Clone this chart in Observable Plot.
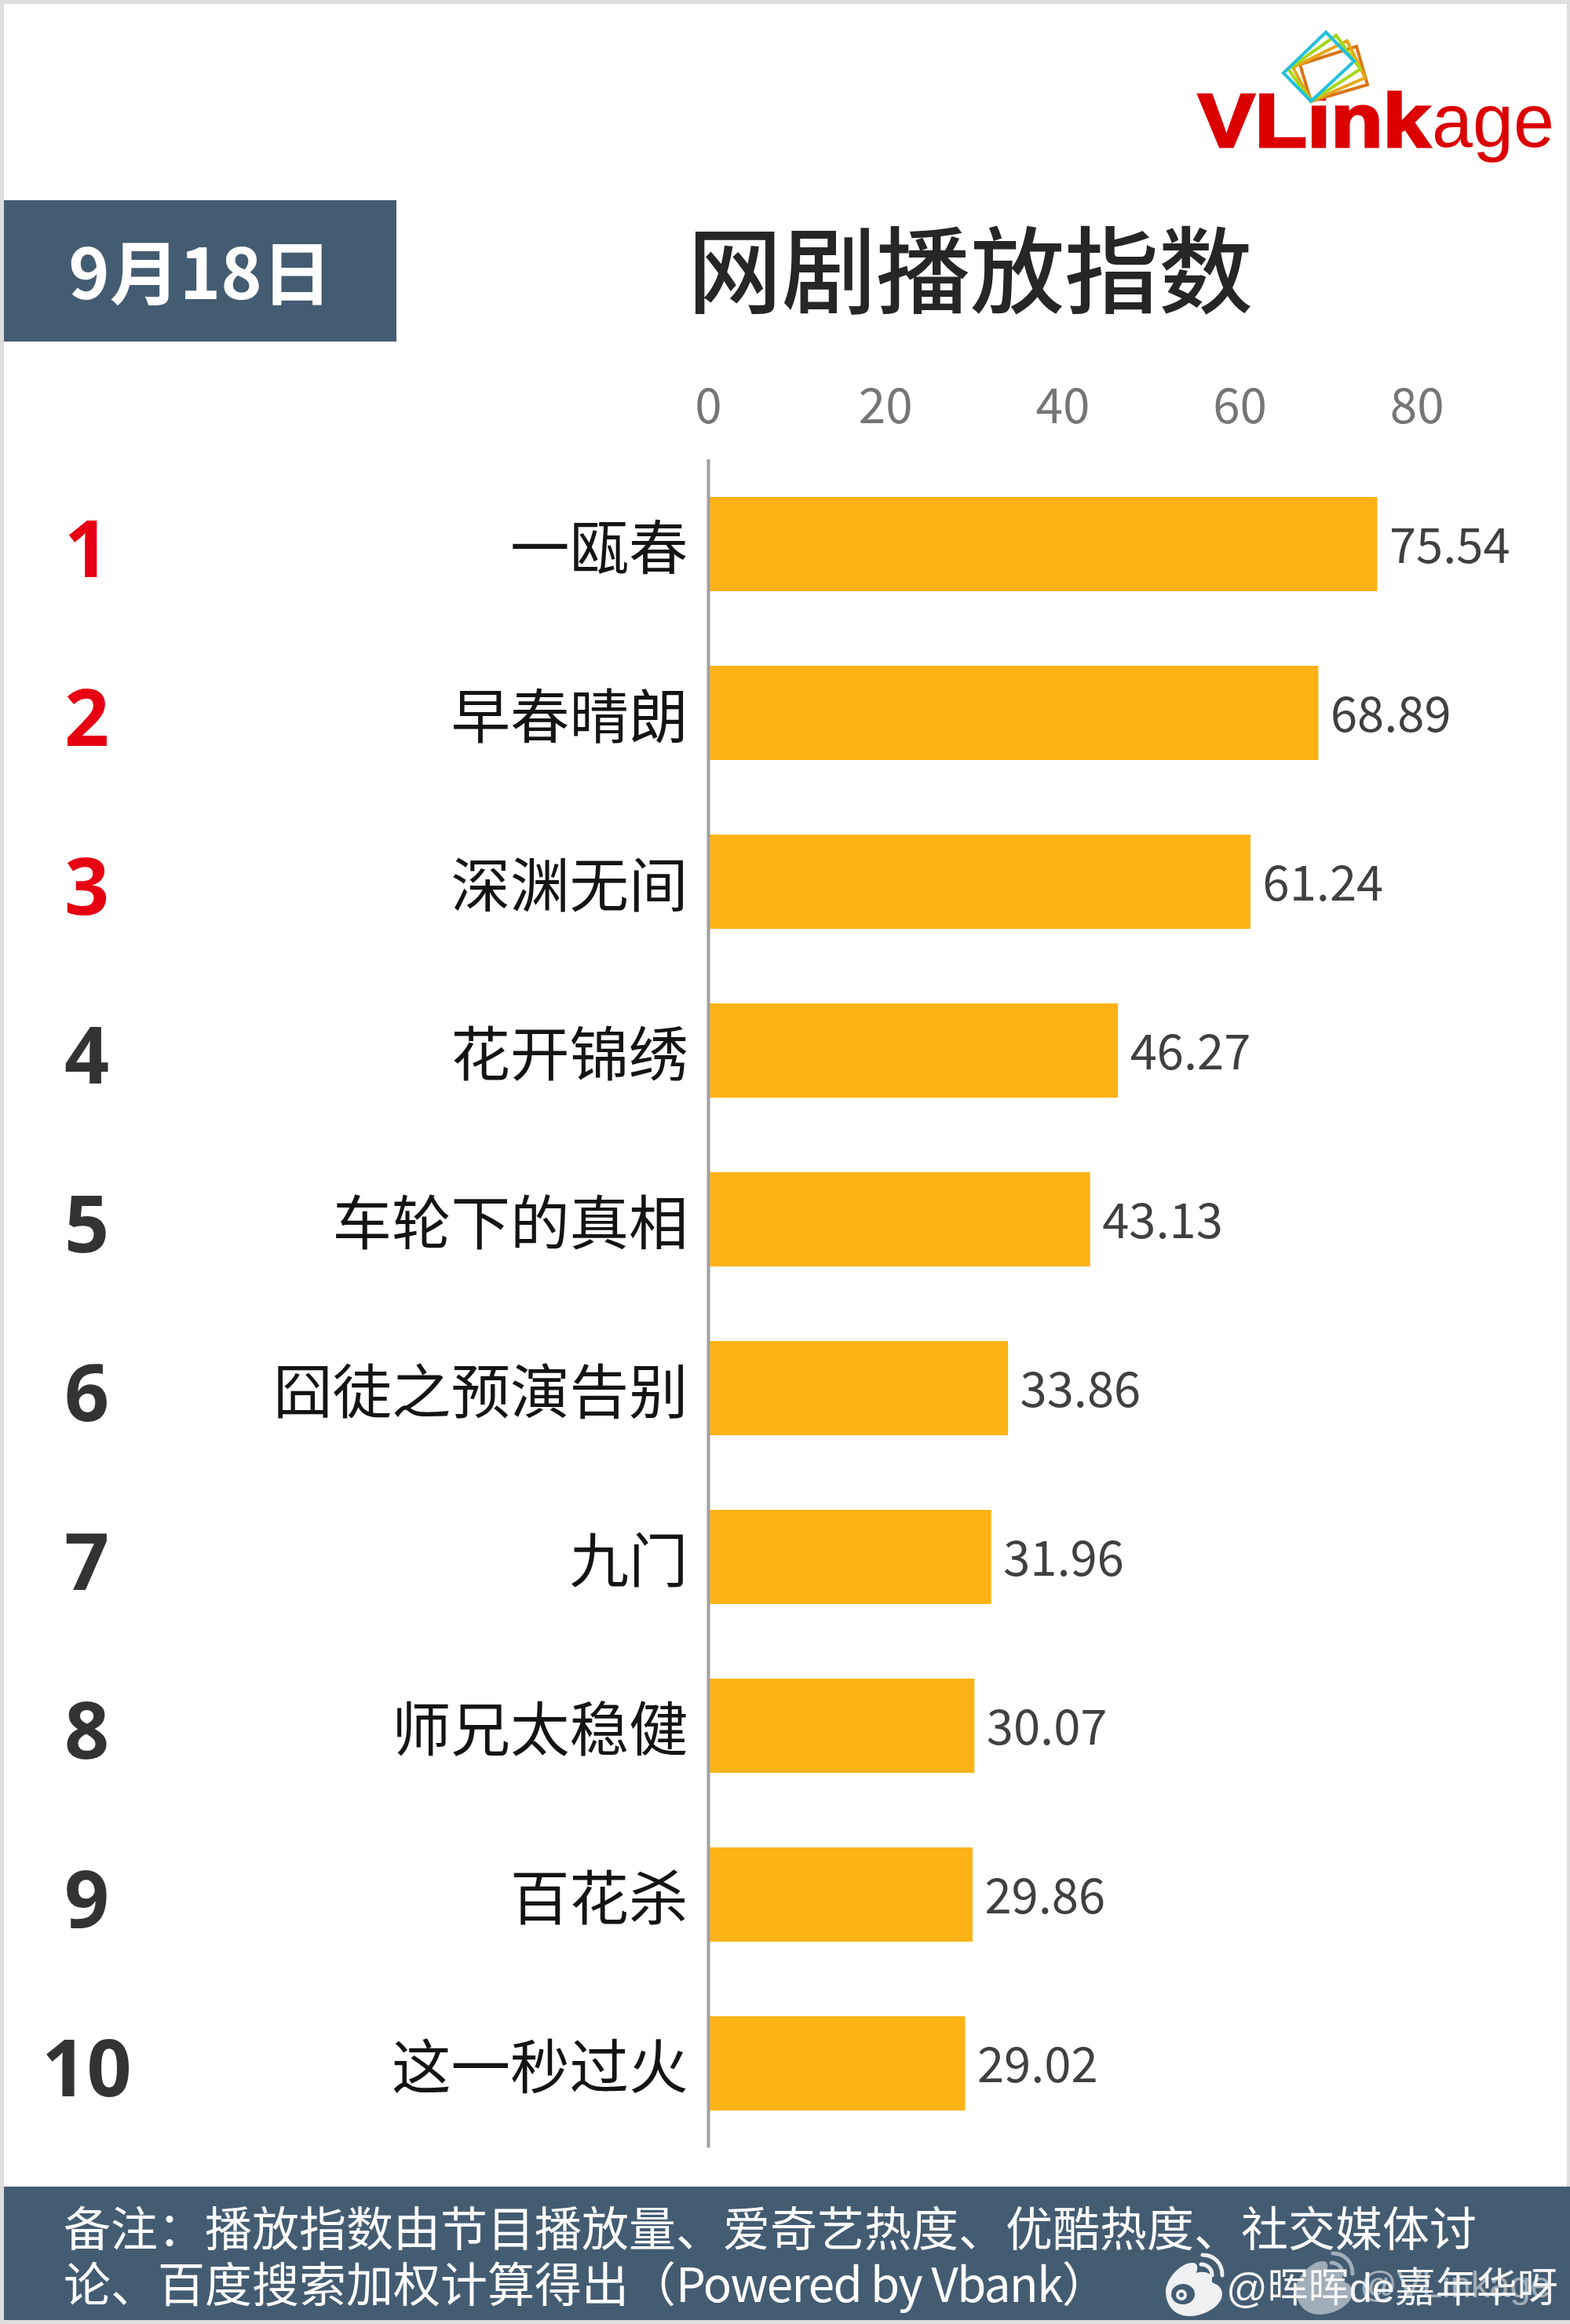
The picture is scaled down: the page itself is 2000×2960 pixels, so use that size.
<!DOCTYPE html>
<html><head><meta charset="utf-8">
<script src="https://cdn.jsdelivr.net/npm/d3@7"></script>
<script src="https://cdn.jsdelivr.net/npm/@observablehq/plot@0.6"></script>
<style>
html,body{margin:0;padding:0;background:#dedede}
#page{position:relative;width:2000px;height:2960px;overflow:hidden;background:#dedede;font-family:"Noto Sans CJK SC","Noto Sans",sans-serif}
#paper{position:absolute;left:5px;top:5px;width:1991px;height:2950px;background:#fff}
#logo{position:absolute;left:0;top:0}
#date{position:absolute;left:5px;top:255px;width:500px;height:180px;background:#445c72;color:#fff;font-size:89px;font-weight:700;line-height:176px;text-align:center;white-space:nowrap}
#title{position:absolute;left:876px;top:258px;width:720px;text-align:center;font-size:120px;line-height:160px;font-weight:500;color:#262626;white-space:nowrap}
#chart{position:absolute;left:0;top:480px}
#foot{position:absolute;left:5px;top:2785px;width:1995px;height:170px;background:#445c72;color:#fff;font-size:60px;white-space:nowrap}
#foot .line{position:absolute;left:76px}
#wmicons{position:absolute;left:0;top:2860px}
.wm{position:absolute;font-family:"Liberation Sans","Noto Sans CJK SC",sans-serif;line-height:60px;white-space:nowrap}
</style></head><body>
<div id="page">
<div id="paper"></div>
<svg id="logo" width="2000" height="240" xmlns="http://www.w3.org/2000/svg">
<text x="1526" y="187" font-family="Liberation Sans" font-weight="700" font-size="96" fill="#dc0000" stroke="#dc0000" stroke-width="3" textLength="296" lengthAdjust="spacingAndGlyphs">VLink</text>
<text x="1824" y="187" font-family="Liberation Sans" font-size="96" fill="#dc0000" textLength="156" lengthAdjust="spacingAndGlyphs">age</text>
<polygon points="1689,41 1725,78 1670,129 1635,93" fill="#fff"/>
<g fill="none" stroke-width="4">
<polygon points="1728,59 1742,108 1670,129 1656,82" stroke="#dc7414"/>
<polygon points="1716,52 1739,99 1670,129 1647,86" stroke="#e6a818"/>
<polygon points="1702,45 1733,88 1670,129 1641,88" stroke="#a4d81c"/>
<polygon points="1689,41 1725,78 1670,129 1635,93" stroke="#20c0dc"/>
</g>
</svg>
<div id="date">9月18日</div>
<div id="title">网剧播放指数</div>
<div id="chart"></div>
<div id="foot">
<div class="line" style="top:6px">备注&#xFF1A;播放指数由节目播放量、爱奇艺热度、优酷热度、社交媒体讨</div>
<div class="line" style="top:77px">论、百度搜索加权计算得出&#xFF08;<span style="letter-spacing:-1.5px">Powered by Vbank</span>&#xFF09;</div>
</div>
<svg id="wmicons" width="2000" height="100" xmlns="http://www.w3.org/2000/svg">
<g opacity="0.55" transform="translate(166,-2)">
<path d="M1485 58c0-14 18-36 34-36 9 0 6 10 5 13 8-3 20-1 20 7 0 3-1 5 2 6 8 3 11 8 11 14 0 14-21 28-42 28-17 0-30-12-30-32z" fill="#eef0f2"/>
<path d="M1530 24c8 0 14 6 14 14M1532 12c15 0 25 11 25 26" fill="none" stroke="#eef0f2" stroke-width="5" stroke-linecap="round"/>
</g>
<g>
<path d="M1485 58c0-14 18-36 34-36 9 0 6 10 5 13 8-3 20-1 20 7 0 3-1 5 2 6 8 3 11 8 11 14 0 14-21 28-42 28-17 0-30-12-30-32z" fill="#eef0f2"/>
<ellipse cx="1507" cy="62" rx="15" ry="13" fill="#445c72"/>
<circle cx="1505" cy="63" r="7" fill="#eef0f2"/>
<circle cx="1505" cy="63" r="3" fill="#445c72"/>
<path d="M1530 24c8 0 14 6 14 14M1532 12c15 0 25 11 25 26" fill="none" stroke="#eef0f2" stroke-width="5" stroke-linecap="round"/>
</g>
</svg>
<div class="wm" style="left:1732px;top:2880px;font-size:47px;color:#dfe3e6;opacity:.6">@VLinkage</div>
<div class="wm" style="left:1562px;top:2884px;font-size:52px;color:#f6f6f6">@晖晖de嘉年华呀</div>
</div>
<script>
const names = ["一瓯春","早春晴朗","深渊无间","花开锦绣","车轮下的真相","囧徒之预演告别","九门","师兄太稳健","百花杀","这一秒过火"];
const ranks = [1,2,3,4,5,6,7,8,9,10];
const values = [75.54,68.89,61.24,46.27,43.13,33.86,31.96,30.07,29.86,29.02];
const xTicks = [0,20,40,60,80];
const rows = names.map((name,i)=>({name,rank:ranks[i],value:values[i]}));
const font = '"Noto Sans CJK SC","Noto Sans",sans-serif';
const chart = Plot.plot({
  width:2000,height:2305,
  marginLeft:902,marginRight:82.4,marginTop:105,marginBottom:49.5,
  style:{background:"transparent",fontFamily:font,overflow:"visible"},
  x:{domain:[0,90],ticks:xTicks,axis:null},
  y:{domain:names,paddingInner:0.442,paddingOuter:0.221,axis:null},
  marks:[
    Plot.barX(rows,{x:"value",y:"name",fill:"#fdb316"}),
    Plot.ruleX([0],{stroke:"#a0a0a0",strokeWidth:4}),
    Plot.axisX({anchor:"top",ticks:xTicks,tickSize:0,tickPadding:0,label:null,fontSize:62,fill:"#757575",dy:-47}),
    Plot.text(rows,{x:"value",y:"name",text:d=>d.value.toFixed(2),textAnchor:"start",dx:15,dy:4,fontSize:61.5,fill:"#404040"}),
    Plot.text(rows,{x:0,y:"name",text:"name",textAnchor:"end",dx:-26,dy:7,fontSize:75.5,fill:"#141414"}),
    Plot.text(rows,{x:0,y:"name",text:"rank",textAnchor:"middle",dx:-792,dy:9,fontSize:100,fontWeight:700,fontFamily:"Noto Sans",fill:d=>d.rank<=3?"#e60012":"#333333"})
  ]
});
document.getElementById("chart").appendChild(chart);
</script>
</body></html>
